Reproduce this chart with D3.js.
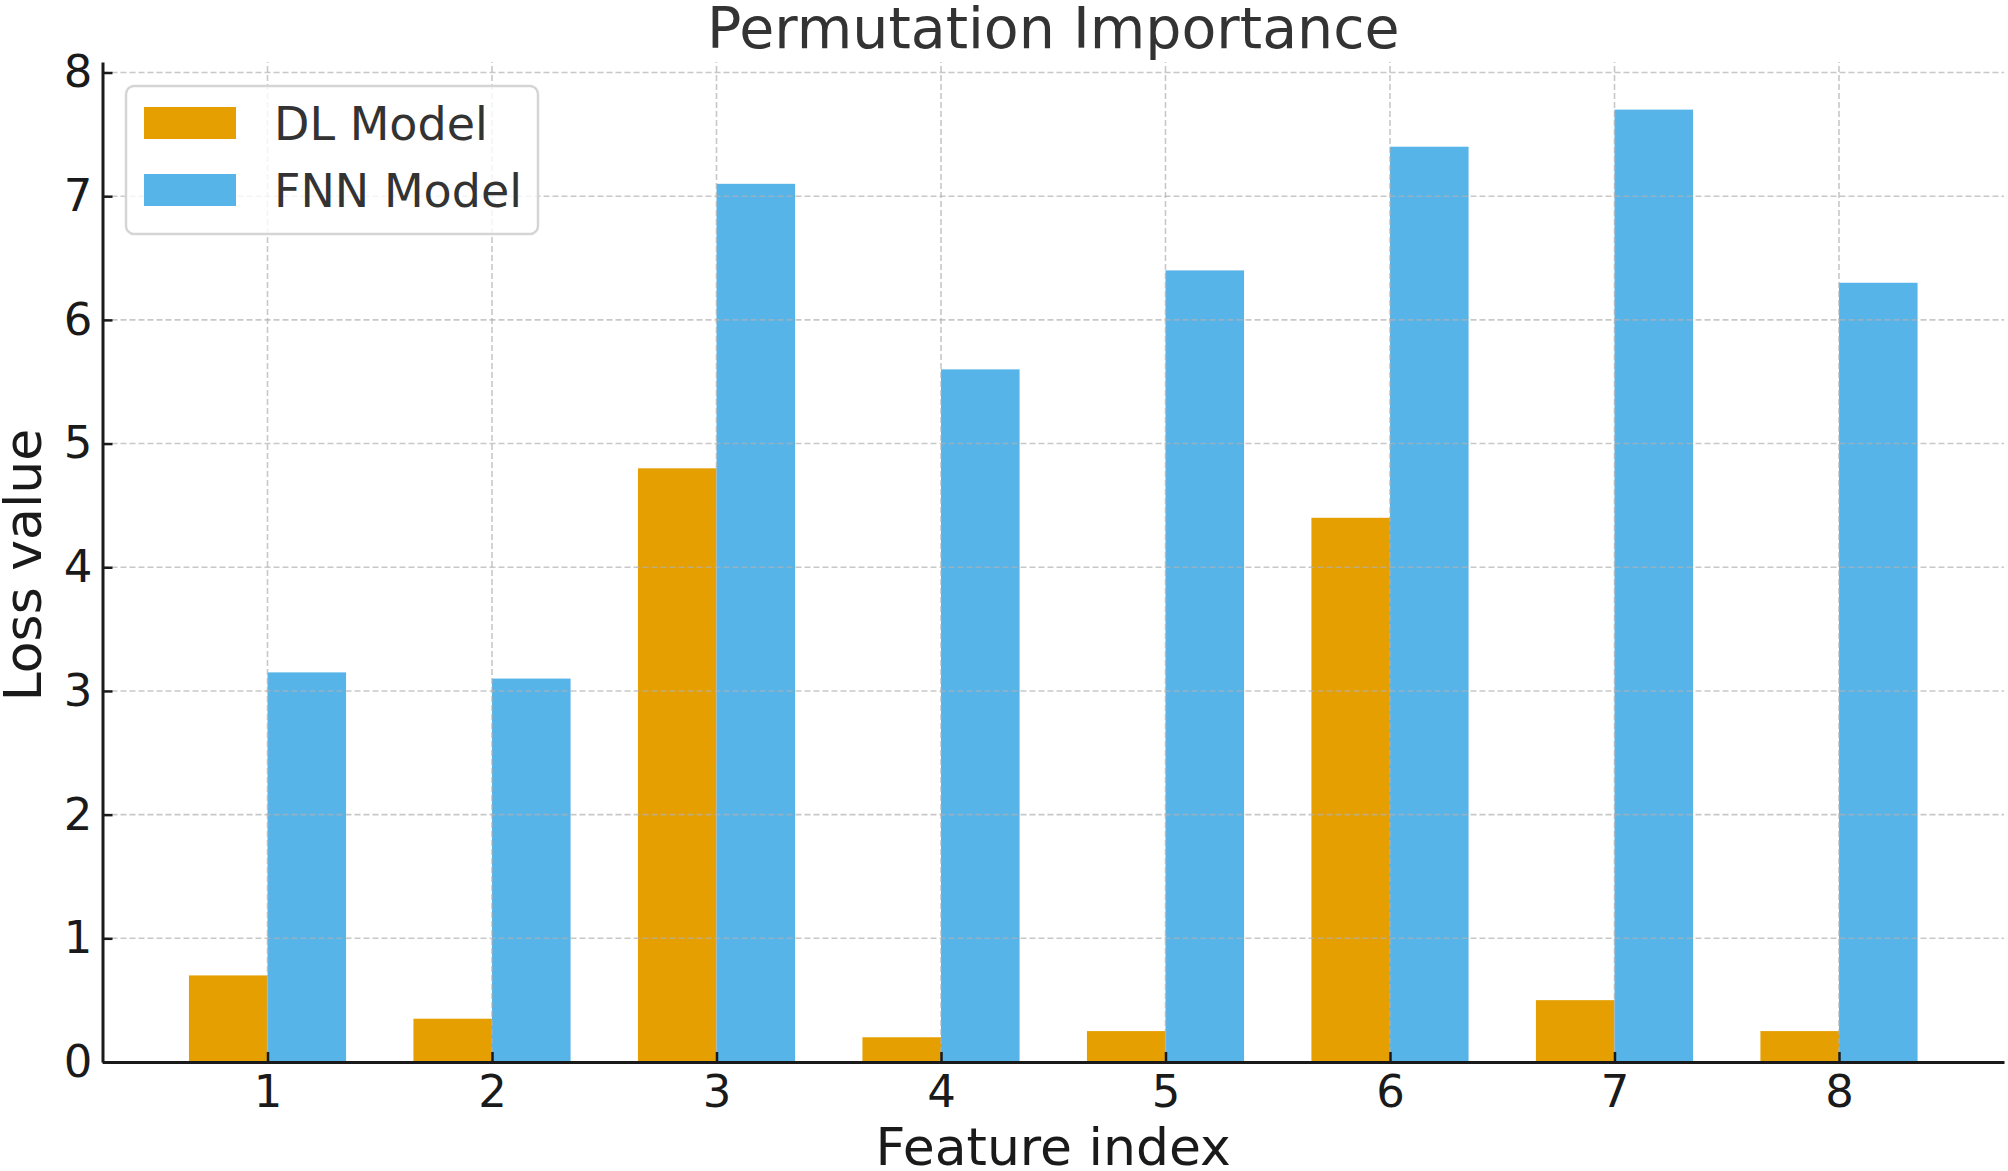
<!DOCTYPE html>
<html>
<head>
<meta charset="utf-8">
<script src="https://cdn.jsdelivr.net/npm/d3@7"></script>
<style>
  body { margin: 0; background: #fff; }
  svg { display: block; font-family: "DejaVu Sans", sans-serif; }
</style>
</head>
<body>
<svg width="2008" height="1171"></svg>
<script>
// feature indices on the x axis
const features = [1, 2, 3, 4, 5, 6, 7, 8];
// loss values
const dlValues = [0.7, 0.35, 4.8, 0.2, 0.25, 4.4, 0.5, 0.25];
const fnnValues = [3.15, 3.1, 7.1, 5.6, 6.4, 7.4, 7.7, 6.3];
const seriesNames = ['DL Model', 'FNN Model'];
const yTicks = [0, 1, 2, 3, 4, 5, 6, 7, 8];

const colors = ['#E69F00', '#56B4E9'];
const barW = 0.35;

const svg = d3.select('svg');

const x = d3.scaleLinear().domain([0.265, 8.735]).range([102.5, 2004]);
const y = d3.scaleLinear().domain([0, 8.085]).range([1062, 62]);

// bars
const series = [dlValues, fnnValues];
series.forEach((vals, s) => {
  svg.append('g')
    .selectAll('rect')
    .data(features)
    .enter()
    .append('rect')
    .attr('x', (d) => x(s === 0 ? d - barW : d))
    .attr('width', x(barW) - x(0))
    .attr('y', (d, i) => y(vals[i]))
    .attr('height', (d, i) => y(0) - y(vals[i]))
    .attr('fill', colors[s]);
});

// grid, drawn over the bars like matplotlib does
const grid = svg.append('g')
  .attr('stroke', '#b0b0b0')
  .attr('stroke-opacity', 0.7)
  .attr('stroke-width', 1.6)
  .attr('stroke-dasharray', '6,3');

grid.selectAll('.hg')
  .data(yTicks)
  .enter()
  .append('line')
  .attr('x1', x.range()[0])
  .attr('x2', x.range()[1])
  .attr('y1', d => y(d))
  .attr('y2', d => y(d));

grid.selectAll('.vg')
  .data(features)
  .enter()
  .append('line')
  .attr('x1', d => x(d))
  .attr('x2', d => x(d))
  .attr('y1', y.range()[0])
  .attr('y2', y.range()[1]);

// axes
const xAxis = svg.append('g')
  .attr('transform', `translate(0,${y(0)})`)
  .call(d3.axisBottom(x).tickValues(features).tickSizeInner(-10).tickSizeOuter(0).tickPadding(13));

const yAxis = svg.append('g')
  .attr('transform', `translate(${x.range()[0]},0)`)
  .call(d3.axisLeft(y).tickValues(yTicks).tickSizeInner(-10).tickSizeOuter(0).tickPadding(10));

[xAxis, yAxis].forEach(ax => {
  ax.select('.domain').attr('stroke', '#1a1a1a').attr('stroke-width', 3);
  ax.selectAll('.tick line').attr('stroke', '#1a1a1a').attr('stroke-width', 2.5);
  ax.selectAll('.tick text')
    .style('font-size', '45px')
    .style('font-family', 'DejaVu Sans')
    .attr('fill', '#1a1a1a');
});
xAxis.selectAll('.tick text').attr('dy', '0.71em');

// title and axis labels
svg.append('text')
  .attr('x', (x.range()[0] + x.range()[1]) / 2)
  .attr('y', 48)
  .attr('text-anchor', 'middle')
  .attr('fill', '#333')
  .style('font-size', '57px')
  .text('Permutation Importance');

svg.append('text')
  .attr('x', (x.range()[0] + x.range()[1]) / 2)
  .attr('y', 1165)
  .attr('text-anchor', 'middle')
  .attr('fill', '#1a1a1a')
  .style('font-size', '52px')
  .text('Feature index');

svg.append('text')
  .attr('transform', `translate(41,${(y.range()[0] + y.range()[1]) / 2 + 3}) rotate(-90)`)
  .attr('text-anchor', 'middle')
  .attr('fill', '#1a1a1a')
  .style('font-size', '52px')
  .text('Loss value');

// legend
const legend = svg.append('g');
legend.append('rect')
  .attr('x', 126).attr('y', 86)
  .attr('width', 412).attr('height', 148)
  .attr('rx', 8)
  .attr('fill', 'rgba(255,255,255,0.8)')
  .attr('stroke', '#d5d5d5')
  .attr('stroke-width', 2.5);

seriesNames.forEach((name, i) => {
  const row = legend.append('g').attr('transform', `translate(0,${i * 67})`);
  row.append('rect')
    .attr('x', 144).attr('y', 107)
    .attr('width', 92).attr('height', 32)
    .attr('fill', colors[i]);
  row.append('text')
    .attr('x', 274).attr('y', 140)
    .attr('fill', '#333')
    .style('font-size', '46px')
    .text(name);
});
</script>
</body>
</html>
